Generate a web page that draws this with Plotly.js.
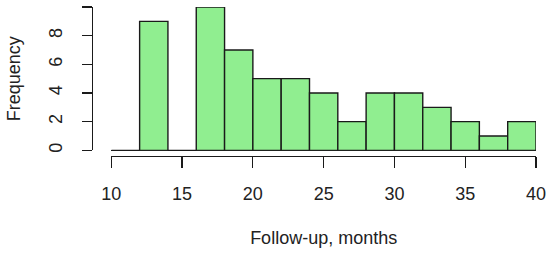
<!DOCTYPE html>
<html>
<head>
<meta charset="utf-8">
<script src="https://cdn.plot.ly/plotly-3.0.1.min.js"></script>
<style>
  html, body { margin: 0; padding: 0; background: #ffffff; }
  #chart { width: 550px; height: 254px; }
</style>
</head>
<body>
<div id="chart"></div>
<script>
// Histogram of follow-up time, bins of 2 months
const binStarts = [10, 12, 14, 16, 18, 20, 22, 24, 26, 28, 30, 32, 34, 36, 38];
const counts = [0, 9, 0, 10, 7, 5, 5, 4, 2, 4, 4, 3, 2, 1, 2];
const binWidth = 2;
const xTicks = [10, 15, 20, 25, 30, 35, 40];
const yTicks = [0, 2, 4, 6, 8, 10];
const yTickText = ['0', '2', '4', '6', '8', ''];

const fillColor = '#90EE90';
const inkColor = '#1a1a1a';
const font = { family: 'Liberation Sans, Arial, sans-serif', size: 18, color: '#222222' };

const trace = {
    type: 'bar',
    x: binStarts.map(b => b + binWidth / 2),
    y: counts,
    width: binWidth,
    marker: { color: fillColor, line: { color: inkColor, width: 1.4 } },
    hoverinfo: 'skip'
};

const layout = {
    width: 550,
    height: 254,
    margin: { l: 92, r: 14, t: 7, b: 98 },
    paper_bgcolor: '#ffffff',
    plot_bgcolor: '#ffffff',
    font: font,
    showlegend: false,
    bargap: 0,
    xaxis: {
        range: [10, 40],
        domain: [0.0435, 1],
        anchor: 'free',
        position: 0,
        tickvals: xTicks,
        ticks: 'outside',
        ticklen: 11,
        tickwidth: 1.2,
        tickcolor: inkColor,
        showline: true,
        linecolor: inkColor,
        linewidth: 1.2,
        showgrid: false,
        zeroline: false,
        ticklabelstandoff: 10,
        title: { text: 'Follow-up, months', font: font, standoff: 28 }
    },
    yaxis: {
        range: [0, 10],
        domain: [0.038, 1],
        anchor: 'free',
        position: 0,
        tickvals: yTicks,
        ticktext: yTickText,
        tickangle: -90,
        ticks: 'outside',
        ticklen: 10,
        tickwidth: 1.2,
        tickcolor: inkColor,
        showline: true,
        linecolor: inkColor,
        linewidth: 1.2,
        showgrid: false,
        zeroline: true,
        zerolinecolor: inkColor,
        zerolinewidth: 1.4,
        ticklabelstandoff: 13,
        title: { text: 'Frequency', font: font, standoff: 19 }
    }
};

Plotly.newPlot('chart', [trace], layout, { displayModeBar: false, staticPlot: true });
</script>
</body>
</html>
